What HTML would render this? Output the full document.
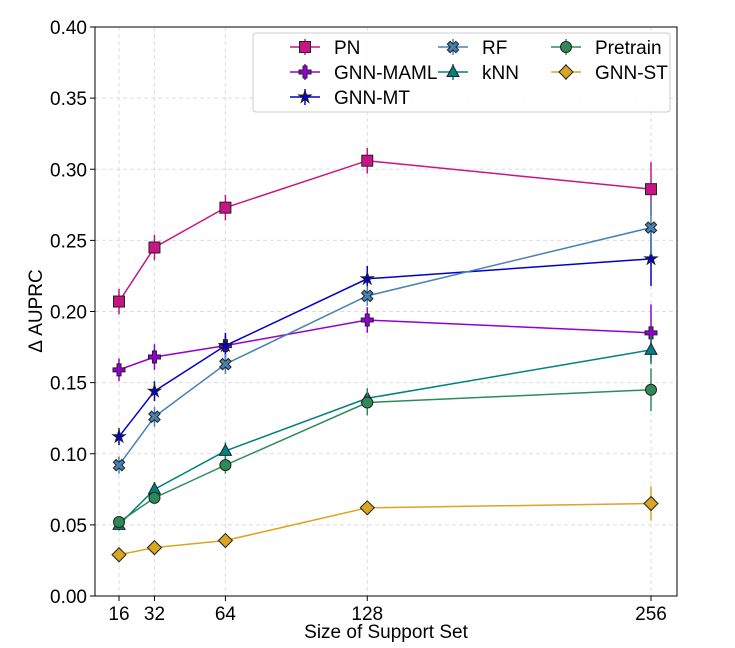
<!DOCTYPE html>
<html><head><meta charset="utf-8"><style>body{margin:0;background:#fff}svg{display:block;font-family:"Liberation Sans",sans-serif}</style></head>
<body>
<svg id="s" width="735" height="648" xmlns="http://www.w3.org/2000/svg"></svg>
<script>
const s=document.getElementById('s');let h='';
const X=v=>119+(v-16)*532/240, Y=v=>596-v*569/0.4;
const L=95,R=677,T=27,B=596;
[16,32,64,128,256].forEach(v=>{h+=`<line x1="${X(v)}" y1="${T}" x2="${X(v)}" y2="${B}" stroke="#ddd" stroke-dasharray="4,3"/>`;});
for(let i=0;i<=8;i++){const y=Y(i*0.05);h+=`<line x1="${L}" y1="${y}" x2="${R}" y2="${y}" stroke="#ddd" stroke-dasharray="4,3"/>`;
h+=`<line x1="${L-5}" y1="${y}" x2="${L}" y2="${y}" stroke="#000"/><text x="${L-8}" y="${y+7}" font-size="19" text-anchor="end">${(i*0.05).toFixed(2)}</text>`;}
[16,32,64,128,256].forEach(v=>{h+=`<line x1="${X(v)}" y1="${B}" x2="${X(v)}" y2="${B+5}" stroke="#000"/><text x="${X(v)}" y="${B+24}" font-size="19" text-anchor="middle">${v}</text>`;});
const xs=[16,32,64,128,256];
const S=[
['PN','#c71585','s',[0.207,0.245,0.273,0.306,0.286],[0.009,0.009,0.009,0.009,0.019]],
['GNN-MAML','#9400d3','p',[0.159,0.168,0.176,0.194,0.185],[0.008,0.009,0.007,0.009,0.02]],
['GNN-MT','#0000cd','*',[0.112,0.144,0.176,0.223,0.237],[0.006,0.007,0.009,0.009,0.019]],
['RF','#4682b4','X',[0.092,0.126,0.163,0.211,0.259],[0.006,0.007,0.007,0.007,0.019]],
['kNN','#008080','^',[0.050,0.075,0.102,0.139,0.173],[0.004,0.005,0.006,0.007,0.01]],
['Pretrain','#2e8b57','o',[0.052,0.069,0.092,0.136,0.145],[0.004,0.004,0.006,0.009,0.015]],
['GNN-ST','#daa520','D',[0.029,0.034,0.039,0.062,0.065],[0.002,0.002,0.003,0.004,0.012]]];
function mk(t,x,y,c){const e=`fill="${c}" stroke="#222" stroke-width="1"`;
if(t=='s')return `<rect x="${x-5.5}" y="${y-5.5}" width="11" height="11" ${e}/>`;
if(t=='o')return `<circle cx="${x}" cy="${y}" r="5.5" ${e}/>`;
if(t=='^')return `<polygon points="${x},${y-6.5} ${x+6},${y+4.5} ${x-6},${y+4.5}" ${e}/>`;
if(t=='D')return `<polygon points="${x},${y-7} ${x+7},${y} ${x},${y+7} ${x-7},${y}" ${e}/>`;
if(t=='p')return `<polygon points="${x-2},${y-6} ${x+2},${y-6} ${x+2},${y-2} ${x+6},${y-2} ${x+6},${y+2} ${x+2},${y+2} ${x+2},${y+6} ${x-2},${y+6} ${x-2},${y+2} ${x-6},${y+2} ${x-6},${y-2} ${x-2},${y-2}" ${e}/>`;
if(t=='X')return `<g transform="translate(${x},${y}) rotate(45)"><polygon points="-2,-6 2,-6 2,-2 6,-2 6,2 2,2 2,6 -2,6 -2,2 -6,2 -6,-2 -2,-2" ${e}/></g>`;
if(t=='*'){let p=[];for(let i=0;i<10;i++){const r=i%2?2.5:6.5,a=-Math.PI/2+i*Math.PI/5;p.push((x+r*Math.cos(a)).toFixed(1)+','+(y+r*Math.sin(a)).toFixed(1));}return `<polygon points="${p.join(' ')}" ${e}/>`;}}
S.forEach(([n,c,t,v,e])=>{
v.forEach((d,i)=>{h+=`<line x1="${X(xs[i])}" x2="${X(xs[i])}" y1="${Y(d-e[i])}" y2="${Y(d+e[i])}" stroke="${c}" stroke-width="1.5"/>`;});
h+=`<polyline fill="none" stroke="${c}" stroke-width="1.5" points="${v.map((d,i)=>X(xs[i])+','+Y(d)).join(' ')}"/>`;
v.forEach((d,i)=>{h+=mk(t,X(xs[i]),Y(d),c);});});
h+=`<rect x="${L}" y="${T}" width="${R-L}" height="${B-T}" fill="none" stroke="#000" stroke-width="1"/>`;
h+=`<rect x="253" y="33" width="417" height="79" rx="3" fill="#fff" fill-opacity="0.85" stroke="#ccc"/>`;
const pos=[[305,47],[305,72],[305,97],[453,47],[453,72],[566,47],[566,72]];
S.forEach(([n,c,t],i)=>{const [x,y]=pos[i];
h+=`<line x1="${x-15}" x2="${x+15}" y1="${y}" y2="${y}" stroke="${c}" stroke-width="1.5"/><line x1="${x}" x2="${x}" y1="${y-8}" y2="${y+8}" stroke="${c}" stroke-width="1.5"/>`+mk(t,x,y,c)+`<text x="${x+29}" y="${y+7}" font-size="19">${n}</text>`;});
h+=`<text x="386" y="638" font-size="19" text-anchor="middle">Size of Support Set</text>`;
h+=`<text transform="translate(42,311) rotate(-90)" font-size="19" text-anchor="middle">Δ AUPRC</text>`;
s.innerHTML=h;
</script>
</body></html>
